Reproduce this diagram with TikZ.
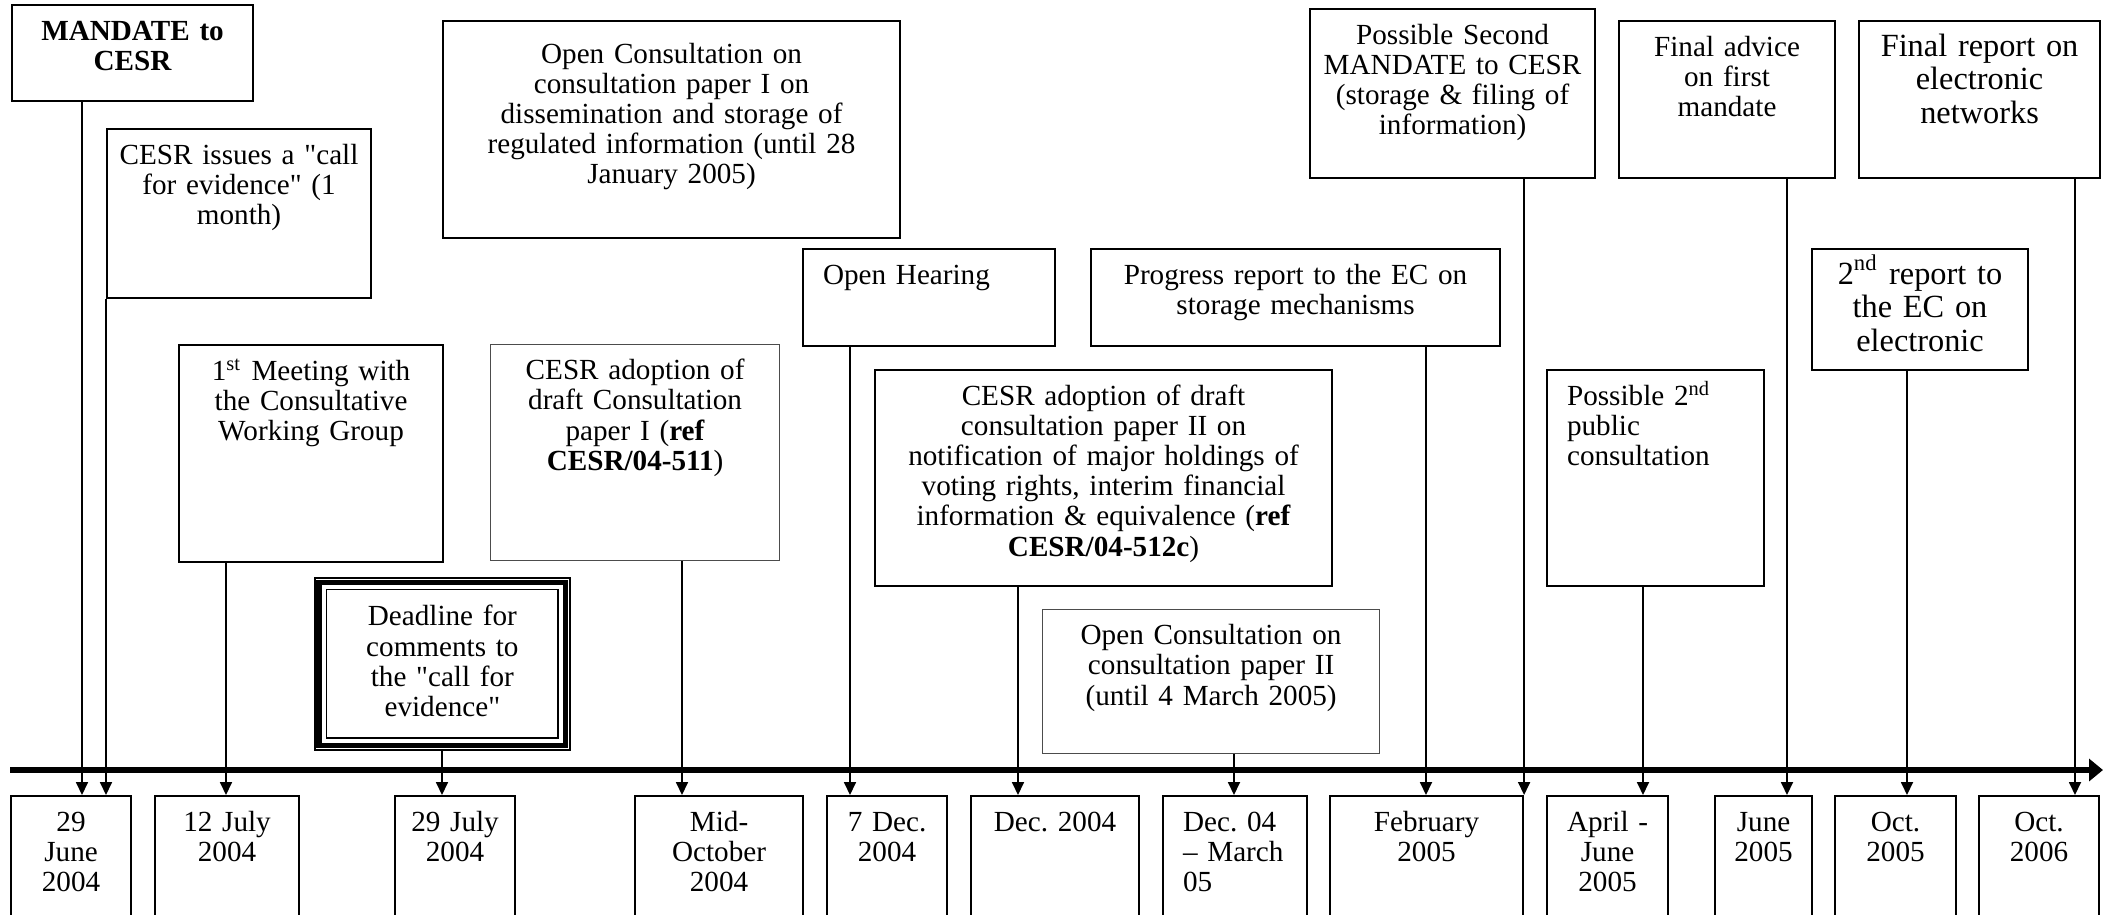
\documentclass[tikz,border=0pt]{standalone}
\usepackage{fontspec}
\newfontfamily\evrm{Liberation Serif}
\usetikzlibrary{arrows.meta}

\newcommand\evfont{\evrm\fontsize{8.3}{8.6}\selectfont}
\newcommand\evbigfont{\evrm\fontsize{9.2}{9.6}\selectfont}
\frenchspacing

\begin{document}
\begin{tikzpicture}[x=1cm, y=-1cm,
        evt/.style={draw, line width=0.6pt, anchor=north west, inner xsep=0.05cm, inner ysep=0pt,
            align=center, text height=0.35cm, font=\evfont},
        evl/.style={evt, inner xsep=0.2cm, align=left},
        faint/.style={draw=black!70, line width=0.35pt},
        conn/.style={-{Triangle[length=1.3mm, width=1.2mm]}, line width=0.5pt},
        timeline/.style={-{Triangle[length=1.4mm, width=2.2mm]}, line width=1.9pt}]
        \useasboundingbox (0, 0) rectangle (21.03, 9.14);
        \clip (0, 0) rectangle (21.03, 9.14);

        % Events
        \node[evt, font=\evfont\bfseries, text width=2.31cm, text depth=0.61cm] at (0.11, 0.04) (mandate) {MANDATE to\\CESR};
        \node[evt, text width=2.54cm, text depth=1.34cm] at (1.06, 1.28) (callev) {CESR issues a "call\\for evidence" (1\\month)};
        \node[evt, text width=4.47cm, text height=0.42cm, text depth=1.75cm] at (4.42, 0.20) (consultA) {Open Consultation on\\consultation paper I on\\dissemination and storage of\\regulated information (until 28\\January 2005)};
        \node[evt, text width=2.54cm, text depth=1.82cm] at (1.78, 3.44) (meeting) {1\textsuperscript{st} Meeting with\\the Consultative\\Working Group};
        \node[evt, faint, text width=2.79cm, text depth=1.81cm] at (4.90, 3.44) (adoptA) {CESR adoption of\\draft Consultation\\paper I (\textbf{ref}\\\textbf{CESR/04-511})};
        \node[evt, line width=0.5pt, text width=2.45cm, text height=0.48cm, text depth=1.24cm] at (3.14, 5.77) (deadline) {Deadline for\\comments to\\the "call for\\evidence"};
        \draw[line width=1.6pt] ([shift={(0.053,0.053)}]deadline.north west) rectangle ([shift={(-0.053,-0.053)}]deadline.south east);
        \draw[line width=0.5pt] ([shift={(0.125,0.125)}]deadline.north west) rectangle ([shift={(-0.125,-0.125)}]deadline.south east);
        \node[evl, text width=2.12cm, text depth=0.62cm] at (8.02, 2.48) (hearing) {Open Hearing};
        \node[evt, text width=4.47cm, text depth=1.81cm] at (8.74, 3.69) (adoptB) {CESR adoption of draft\\consultation paper II on\\notification of major holdings of\\voting rights, interim financial\\information \& equivalence (\textbf{ref}\\\textbf{CESR/04-512c})};
        \node[evt, faint, text width=3.27cm, text depth=1.09cm] at (10.42, 6.09) (consultB) {Open Consultation on\\consultation paper II\\(until 4 March 2005)};
        \node[evt, text width=3.99cm, text depth=0.62cm] at (10.90, 2.48) (progress) {Progress report to the EC on\\storage mechanisms};
        \node[evt, text width=2.75cm, text depth=1.34cm] at (13.09, 0.08) (mandateB) {Possible Second\\MANDATE to CESR\\(storage \& filing of\\information)};
        \node[evl, text width=1.77cm, text depth=1.81cm] at (15.46, 3.69) (possB) {Possible 2\textsuperscript{nd}\\public\\consultation};
        \node[evt, text width=2.06cm, text depth=1.22cm] at (16.18, 0.20) (advice) {Final advice\\on first\\mandate};
        \node[evt, font=\evbigfont, text width=2.31cm, text depth=1.22cm] at (18.58, 0.20) (finrep) {Final report on\\electronic\\networks};
        \node[evt, font=\evbigfont, text width=2.06cm, text depth=0.86cm] at (18.11, 2.48) (report2) {2\textsuperscript{nd} report to\\the EC on\\electronic};

        % Dates below the time line
        \node[evt, text width=1.10cm, text depth=1.10cm] at (0.10, 7.95) (d1) {29\\June\\2004};
        \node[evt, text width=1.34cm, text depth=1.10cm] at (1.54, 7.95) (d2) {12 July\\2004};
        \node[evt, text width=1.10cm, text depth=1.10cm] at (3.94, 7.95) (d3) {29 July\\2004};
        \node[evt, text width=1.58cm, text depth=1.10cm] at (6.34, 7.95) (d4) {Mid-\\October\\2004};
        \node[evt, text width=1.10cm, text depth=1.10cm] at (8.26, 7.95) (d5) {7 Dec.\\2004};
        \node[evt, text width=1.58cm, text depth=1.10cm] at (9.70, 7.95) (d6) {Dec. 2004};
        \node[evl, text width=1.04cm, text depth=1.10cm] at (11.62, 7.95) (d7) {Dec. 04\\– March\\05};
        \node[evt, text width=1.83cm, text depth=1.10cm] at (13.29, 7.95) (d8) {February\\2005};
        \node[evt, text width=1.11cm, text depth=1.10cm] at (15.46, 7.95) (d9) {April -\\June\\2005};
        \node[evt, text width=0.87cm, text depth=1.10cm] at (17.14, 7.95) (d10) {June\\2005};
        \node[evt, text width=1.11cm, text depth=1.10cm] at (18.34, 7.95) (d11) {Oct.\\2005};
        \node[evt, text width=1.10cm, text depth=1.10cm] at (19.78, 7.95) (d12) {Oct.\\2006};

        % Time line
        \coordinate (tstart) at (0.10, 7.70);
        \coordinate (tend) at (21.03, 7.70);
        \draw[timeline] (tstart) -- (tend);

        % Connectors
        \draw[conn] (mandate.south -| 0.82,0) -- (d1.north -| 0.82,0);
        \draw[conn] (callev.south west) -- (d1.north -| callev.south west);
        \draw[conn] (meeting.south -| 2.26,0) -- (d2.north -| 2.26,0);
        \draw[conn] (deadline.south -| 4.42,0) -- (d3.north -| 4.42,0);
        \draw[conn] (adoptA.south -| 6.82,0) -- (d4.north -| 6.82,0);
        \draw[conn] (hearing.south -| 8.50,0) -- (d5.north -| 8.50,0);
        \draw[conn] (adoptB.south -| 10.18,0) -- (d6.north -| 10.18,0);
        \draw[conn] (consultB.south -| 12.34,0) -- (d7.north -| 12.34,0);
        \draw[conn] (progress.south -| 14.26,0) -- (d8.north -| 14.26,0);
        \draw[conn] (mandateB.south -| d8.north east) -- (d8.north east);
        \draw[conn] (possB.south -| 16.43,0) -- (d9.north -| 16.43,0);
        \draw[conn] (advice.south -| 17.87,0) -- (d10.north -| 17.87,0);
        \draw[conn] (report2.south -| 19.07,0) -- (d11.north -| 19.07,0);
        \draw[conn] (finrep.south -| 20.75,0) -- (d12.north -| 20.75,0);

\end{tikzpicture}
\end{document}
